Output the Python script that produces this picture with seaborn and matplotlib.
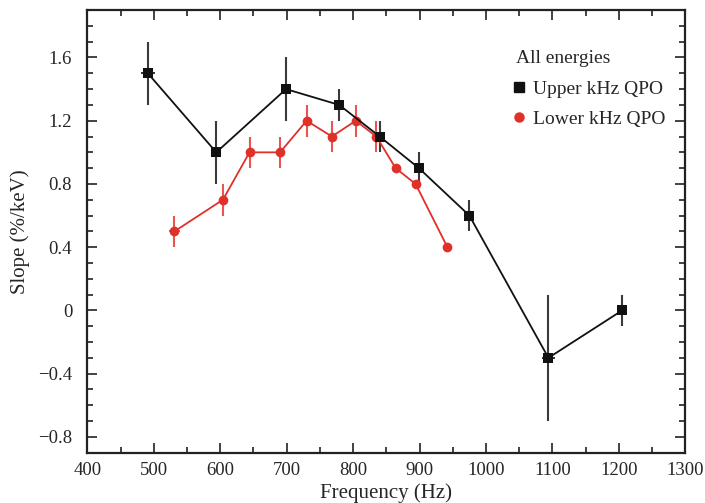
import numpy as np
import pandas as pd
import matplotlib
matplotlib.use("Agg")
import matplotlib.pyplot as plt
from matplotlib.lines import Line2D
from matplotlib.ticker import MultipleLocator, FuncFormatter
import seaborn as sns

# Upper kHz QPO
upper_freq = [491, 594, 699, 779, 840, 899, 975, 1094, 1205]
upper_slope = [1.5, 1.0, 1.4, 1.3, 1.1, 0.9, 0.6, -0.3, 0.0]
upper_err = [0.2, 0.2, 0.2, 0.1, 0.1, 0.1, 0.1, 0.4, 0.1]
upper_xerr = [10, 3, 3, 3, 3, 3, 3, 10, 3]

# Lower kHz QPO
lower_freq = [531, 604, 644, 690, 730, 768, 804, 835, 864, 894, 942]
lower_slope = [0.5, 0.7, 1.0, 1.0, 1.2, 1.1, 1.2, 1.1, 0.9, 0.8, 0.4]
lower_err = [0.1, 0.1, 0.1, 0.1, 0.1, 0.1, 0.1, 0.1, 0.0, 0.0, 0.0]
lower_xerr = [8, 3, 3, 3, 3, 3, 3, 5, 0, 0, 0]

sns.set_theme(style="ticks")
plt.rcParams['font.family'] = ['Liberation Serif', 'DejaVu Serif']
plt.rcParams['mathtext.fontset'] = 'stix'

black = "#111111"
red = "#e0302a"

fig = plt.figure(figsize=(7.05, 5.03), dpi=100)
ax = fig.add_axes([0.124, 0.100, 0.848, 0.880])

df_u = pd.DataFrame({"f": upper_freq, "s": upper_slope})
df_l = pd.DataFrame({"f": lower_freq, "s": lower_slope})

ax.errorbar(upper_freq, upper_slope, yerr=upper_err, xerr=upper_xerr, fmt="none",
            ecolor="#3a3a3a", elinewidth=1.5, capsize=0, zorder=2)
ax.errorbar(lower_freq, lower_slope, yerr=lower_err, xerr=lower_xerr, fmt="none",
            ecolor="#e8564f", elinewidth=1.5, capsize=0, zorder=2)

sns.lineplot(data=df_u, x="f", y="s", ax=ax, color=black, lw=1.3, marker="s",
             markersize=7.5, markeredgewidth=0, markerfacecolor=black, zorder=4,
             sort=False, errorbar=None)
sns.lineplot(data=df_l, x="f", y="s", ax=ax, color=red, lw=1.3, marker="o",
             markersize=7, markeredgewidth=0, markerfacecolor=red, zorder=3,
             sort=False, errorbar=None)

ax.set_xlim(400, 1300)
ax.set_ylim(-0.9, 1.9)
ax.xaxis.set_major_locator(MultipleLocator(100))
ax.xaxis.set_minor_locator(MultipleLocator(50))
ax.yaxis.set_major_locator(MultipleLocator(0.4))
ax.yaxis.set_minor_locator(MultipleLocator(0.1))

def yfmt(v, pos):
    if abs(v) < 1e-9:
        return "0"
    s = f"{v:.1f}"
    return s.replace("-", "\u2212")

ax.yaxis.set_major_formatter(FuncFormatter(yfmt))

ax.tick_params(which="both", direction="in", top=True, right=True,
               labelsize=13.5, color="#222222", width=1.2)
ax.tick_params(which="major", length=7.5)
ax.tick_params(which="minor", length=4.3)
ax.tick_params(axis="y", which="major", pad=11)
ax.tick_params(axis="x", which="major", pad=7)
for sp in ax.spines.values():
    sp.set_linewidth(1.6)
    sp.set_color("#222222")
    sp.set_visible(True)

ax.set_xlabel("Frequency (Hz)", fontsize=15, labelpad=3)
ax.set_ylabel("Slope (%/keV)", fontsize=15, labelpad=6)

handles = [
    Line2D([], [], color=black, marker="s", linestyle="none", markersize=6.5),
    Line2D([], [], color=red, marker="o", linestyle="none", markersize=6.5),
]
leg = ax.legend(handles, ["Upper kHz QPO", "Lower kHz QPO"], title="All energies",
                loc="upper left", bbox_to_anchor=(0.717, 0.909), frameon=False,
                fontsize=14, title_fontsize=14, handlelength=0.3,
                handletextpad=0.57, labelspacing=0.66, alignment="left",
                borderaxespad=0, borderpad=0)

fig.savefig("out.png", dpi=100)
